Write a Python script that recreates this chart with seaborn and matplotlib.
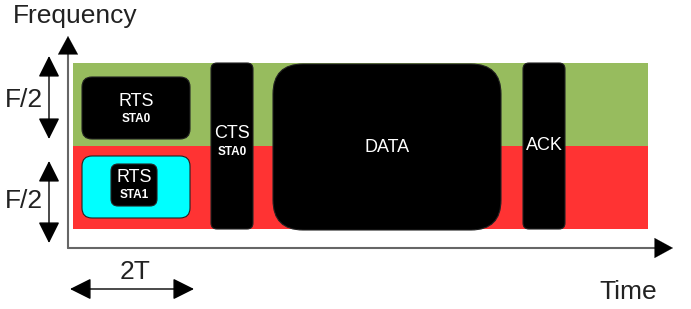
import matplotlib
matplotlib.use("Agg")
import matplotlib.pyplot as plt
import seaborn as sns
from matplotlib.patches import FancyBboxPatch, Rectangle

# Frequency bands (pixel space of the diagram)
band_names = ["upper F/2", "lower F/2"]
band_top = [63, 146]
band_bottom = [146, 229]
band_colors = ["#97BC5E", "#FF3333"]
band_x = [73, 648]

# Frames: label, sub label, x0, x1, y0, y1, corner radius
frame_labels = ["RTS", "CTS", "DATA", "ACK"]
frame_subs = ["STA0", "STA0", "", ""]
frame_x0 = [82, 211, 273, 523]
frame_x1 = [190, 253, 501, 565]
frame_y0 = [77, 63, 64, 63]
frame_y1 = [139, 229, 230, 229]
frame_radius = [10, 6, 30, 6]
label_dy = [-7, -12, 0, 0]

# STA1 RTS (cyan holder and inner frame)
sta1_outer = [82, 190, 156, 218]
sta1_inner = [111, 157, 164, 206]

sns.set_theme(style="white")
plt.rcParams["font.family"] = ["Liberation Sans", "DejaVu Sans"]

fig = plt.figure(figsize=(6.91, 3.09), dpi=100)
ax = fig.add_axes([0, 0, 1, 1])
ax.set_xlim(0, 691)
ax.set_ylim(309, 0)
ax.axis("off")

for top, bot, c in zip(band_top, band_bottom, band_colors):
    ax.add_patch(Rectangle((band_x[0], top), band_x[1] - band_x[0], bot - top,
                           facecolor=c, edgecolor="none"))


def rbox(x0, x1, y0, y1, r, fc):
    ax.add_patch(FancyBboxPatch((x0, y0), x1 - x0, y1 - y0,
                                boxstyle=f"round,pad=0,rounding_size={r}",
                                facecolor=fc, edgecolor="#222222", lw=0.8))


for lab, sub, x0, x1, y0, y1, r, dy in zip(frame_labels, frame_subs, frame_x0, frame_x1,
                                           frame_y0, frame_y1, frame_radius, label_dy):
    rbox(x0, x1, y0, y1, r, "black")
    cx = (x0 + x1) / 2
    cy = (y0 + y1) / 2
    ax.text(cx, cy + dy, lab, color="white", fontsize=13, ha="center", va="center")
    if sub:
        ax.text(cx, cy + dy + 18, sub, color="white", fontsize=8.5, fontweight="bold",
                ha="center", va="center")

rbox(*sta1_outer, 10, "#00FFFF")
rbox(*sta1_inner, 7, "black")
cx = (sta1_inner[0] + sta1_inner[1]) / 2
ax.text(cx, 178, "RTS", color="white", fontsize=13, ha="center", va="center")
ax.text(cx, 195, "STA1", color="white", fontsize=8.5, fontweight="bold",
        ha="center", va="center")

# axes arrows
head = "-|>,head_length=1.1,head_width=0.6"
ax.plot([68, 68], [248, 50], color="#666666", lw=1.5)
ax.plot([68, 660], [248, 248], color="#666666", lw=1.5)
ax.annotate("", xy=(68, 36), xytext=(68, 53),
            arrowprops=dict(arrowstyle=head, color="black", lw=0.1, shrinkA=0, shrinkB=0))
ax.annotate("", xy=(673, 248), xytext=(656, 248),
            arrowprops=dict(arrowstyle=head, color="black", lw=0.1, shrinkA=0, shrinkB=0))

# F/2 and 2T dimension arrows
dim = dict(arrowstyle="<|-|>,head_length=1.1,head_width=0.55", color="black",
           lw=1.0, shrinkA=0, shrinkB=0)
ax.annotate("", xy=(49, 56), xytext=(49, 139), arrowprops=dim)
ax.annotate("", xy=(49, 161), xytext=(49, 243), arrowprops=dim)
ax.annotate("", xy=(70, 289), xytext=(194, 289), arrowprops=dim)

txt = dict(fontsize=19, color="#222222", ha="center", va="center")
ax.text(24, 100, "F/2", **txt)
ax.text(24, 201, "F/2", **txt)
ax.text(135, 272, "2T", **txt)
ax.text(628, 292, "Time", **txt)
ax.text(75, 16, "Frequency", **txt)

fig.savefig("out.png", dpi=100)
